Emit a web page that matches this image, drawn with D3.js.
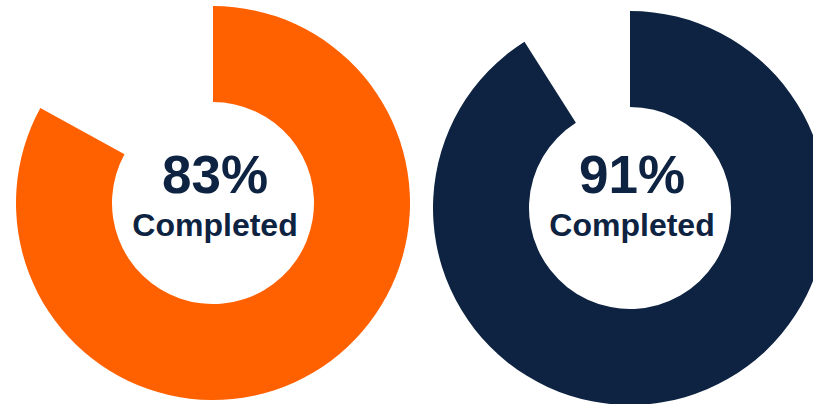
<!DOCTYPE html>
<html>
<head>
<meta charset="utf-8">
<script src="https://cdn.jsdelivr.net/npm/d3@7"></script>
<style>
  body { margin: 0; background: #fff; }
  text { font-family: "Liberation Sans", Arial, sans-serif; font-weight: bold; }
</style>
</head>
<body>
<div id="chart"></div>
<script>
var names = ["Left", "Right"];
var percents = [83, 91];
var labels = ["Completed", "Completed"];
var colors = ["#ff6100", "#0d2341"];

function init() {
    var w = 813;
    var h = 404;
    var outerR = 197;
    var innerR = 101;
    var centers = [[213, 203], [630, 208]];

    var svg = d3.select("#chart")
        .append("svg")
        .attr("width", w)
        .attr("height", h);

    var angle = d3.scaleLinear().domain([0, 100]).range([0, 2 * Math.PI]);

    var arc = d3.arc()
        .innerRadius(innerR)
        .outerRadius(outerR)
        .startAngle(0)
        .endAngle(function (d) { return angle(d); });

    var g = svg.selectAll("g.donut")
        .data(percents)
        .enter()
        .append("g")
        .attr("class", "donut")
        .attr("transform", function (d, i) {
            return "translate(" + centers[i][0] + "," + centers[i][1] + ")";
        });

    g.append("path")
        .attr("d", function (d) { return arc(d); })
        .attr("fill", function (d, i) { return colors[i]; });

    // big percentage in the hole
    g.append("text")
        .text(function (d) { return d + "%"; })
        .attr("x", 2)
        .attr("y", function (d, i) { return 193 - centers[i][1]; })
        .attr("text-anchor", "middle")
        .attr("font-size", 53)
        .attr("fill", "#0d2341");

    g.append("text")
        .text(function (d, i) { return labels[i]; })
        .attr("x", 2)
        .attr("y", function (d, i) { return 236 - centers[i][1]; })
        .attr("text-anchor", "middle")
        .attr("font-size", 32)
        .attr("fill", "#0d2341");
}
window.onload = init;
</script>
</body>
</html>
